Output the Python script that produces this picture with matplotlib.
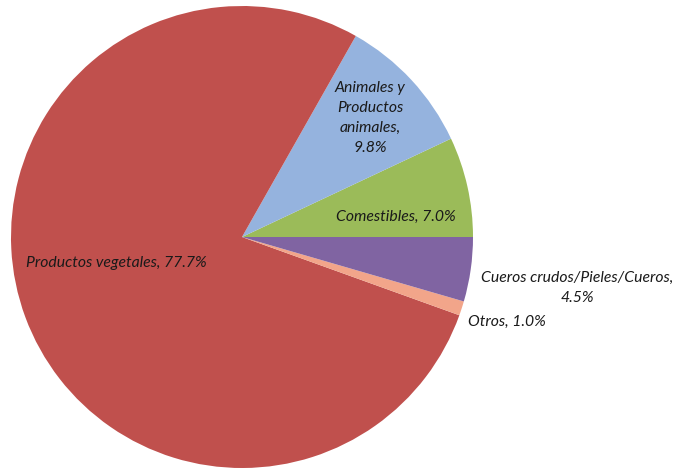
import numpy as np
from matplotlib import pyplot as plt

# participación por tipo de producto (%)
categorias = ['Comestibles', 'Animales y Productos animales', 'Productos vegetales',
              'Otros', 'Cueros crudos/Pieles/Cueros']
valores = [7.0, 9.8, 77.7, 1.0, 4.5]
colores = ['#9BBB59', '#95B3DE', '#C0504D', '#F2A58A', '#8064A2']

etiquetas = ['Comestibles, 7.0%', 'Animales y\nProductos\nanimales,\n9.8%',
             'Productos vegetales, 77.7%', 'Otros, 1.0%',
             'Cueros crudos/Pieles/Cueros,\n4.5%']
# posiciones de las etiquetas (coordenadas del gráfico) y alineación
pos_etiquetas = [(0.667, 0.087), (0.554, 0.515), (-0.545, -0.113), (0.978, -0.368), (1.450, -0.221)]
alineacion = ['center', 'center', 'center', 'left', 'center']

fig = plt.figure(figsize=(6.81, 4.68), dpi=100)
ax = fig.add_axes([11 / 681, 0, 462 / 681, 462 / 468])
ax.pie(valores, colors=colores, startangle=0, counterclock=True, radius=1,
       wedgeprops=dict(linewidth=0))
ax.set_xlim(-1, 1)
ax.set_ylim(-1, 1)
ax.set_aspect('equal')
ax.axis('off')

for texto, (x, y), ha in zip(etiquetas, pos_etiquetas, alineacion):
    ax.text(x, y, texto, ha=ha, va='center', multialignment='center',
            fontsize=11.3, fontstyle='italic', family='Lato', color='#1a1a1a',
            linespacing=1.55)

plt.savefig('out.png', dpi=100)
